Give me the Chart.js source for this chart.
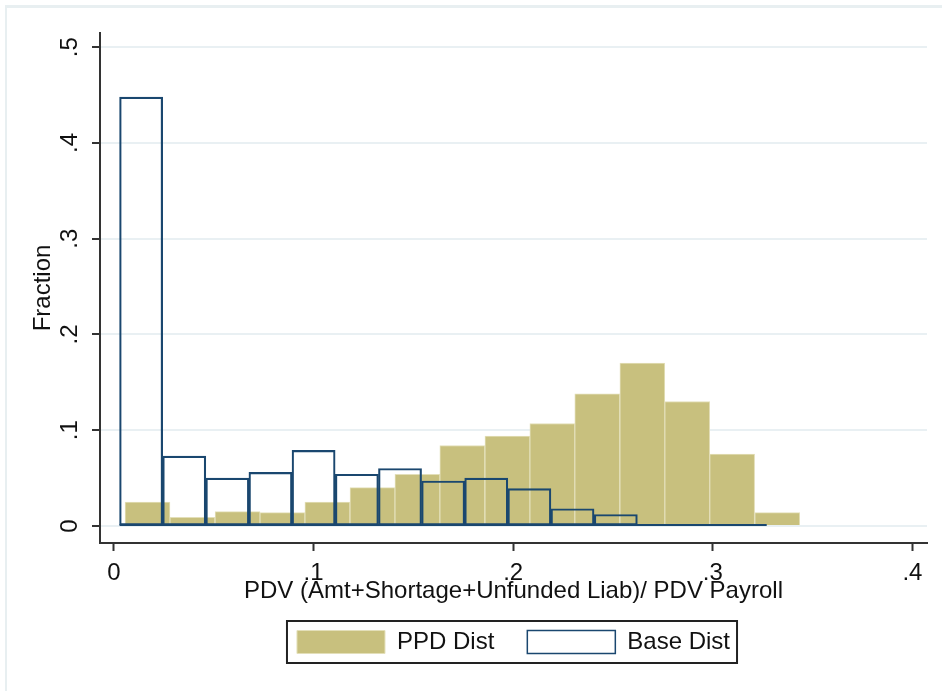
<!DOCTYPE html>
<html>
<head>
<meta charset="utf-8">
<title>PPD vs Base distribution</title>
<script src="https://cdn.jsdelivr.net/npm/chart.js@4.4.1/dist/chart.umd.min.js"></script>
<style>
  html, body { margin: 0; padding: 0; background: #fff; }
  #wrap { width: 942px; height: 691px; position: relative; }
</style>
</head>
<body>
<div id="wrap"><canvas id="histChart"></canvas></div>
<script>
// bin midpoints and fractions
const ppdBins = [0.0168, 0.0393, 0.0619, 0.0844, 0.1069, 0.1295, 0.1520, 0.1745, 0.1971, 0.2196, 0.2421, 0.2647, 0.2872, 0.3097, 0.3323];
const ppdFrac = [0.025, 0.009, 0.015, 0.014, 0.025, 0.040, 0.054, 0.084, 0.094, 0.107, 0.138, 0.170, 0.130, 0.075, 0.014];

const baseBins = [0.0136, 0.0352, 0.0568, 0.0784, 0.1000, 0.1217, 0.1433, 0.1649, 0.1865, 0.2081, 0.2297, 0.2514, 0.2730, 0.2946, 0.3162];
const baseFrac = [0.448, 0.073, 0.050, 0.056, 0.079, 0.054, 0.060, 0.047, 0.050, 0.039, 0.018, 0.012, 0, 0, 0];

const xTicks = [0, 0.1, 0.2, 0.3, 0.4];
const yTicks = [0, 0.1, 0.2, 0.3, 0.4, 0.5];

const seriesNames = ["PPD Dist", "Base Dist"];
const xTitle = "PDV (Amt+Shortage+Unfunded Liab)/ PDV Payroll";
const yTitle = "Fraction";

document.addEventListener("DOMContentLoaded", () => {
  const ctx = document.getElementById("histChart").getContext("2d");

  Chart.defaults.font.family = "'Liberation Sans', Arial, sans-serif";
  Chart.defaults.font.size = 24;
  Chart.defaults.color = "#111";

  const khaki = "#c8c07e";
  const navy = "#1a476f";
  const gridColor = "#e9f0f3";
  const axisColor = "#333";

  // stata style: ".1" instead of "0.1"
  const stataLabel = v => (v === 0 ? "0" : String(v).replace(/^0/, ""));

  const xMin = -0.007, xMax = 0.4073;

  // page frame + white background
  const frame = {
    id: "frame",
    beforeDraw(chart) {
      const c = chart.ctx;
      c.save();
      c.fillStyle = "#fff";
      c.fillRect(0, 0, chart.width, chart.height);
      c.fillStyle = "#e8eff1";
      c.fillRect(5, 5, chart.width - 5, 3);
      c.fillRect(5, 5, 2, chart.height - 5);
      c.restore();
    }
  };

  // base dist baseline runs under the empty bins too
  const baseLine = {
    id: "baseLine",
    afterDatasetsDraw(chart) {
      const meta = chart.getDatasetMeta(1);
      if (!meta.data.length) return;
      const first = meta.data[0], last = meta.data[meta.data.length - 1];
      const y0 = chart.scales.y.getPixelForValue(0);
      const c = chart.ctx;
      c.save();
      c.strokeStyle = navy;
      c.lineWidth = 2;
      c.beginPath();
      c.moveTo(first.x - first.width / 2, y0 - 1);
      c.lineTo(last.x + last.width / 2, y0 - 1);
      c.stroke();
      c.restore();
    }
  };

  // box round the legend
  const legendBox = {
    id: "legendBox",
    afterDraw(chart) {
      const hb = chart.legend && chart.legend.legendHitBoxes;
      if (!hb || !hb.length) return;
      const first = hb[0], last = hb[hb.length - 1];
      const c = chart.ctx;
      c.save();
      c.strokeStyle = "#222";
      c.lineWidth = 2;
      c.strokeRect(first.left - 10, first.top - 9, (last.left + last.width + 7) - (first.left - 10), first.height + 18);
      c.restore();
    }
  };

  new Chart(ctx, {
    type: "bar",
    data: {
      datasets: [
        {
          label: seriesNames[0],
          data: ppdBins.map((b, i) => ({ x: b, y: ppdFrac[i] })),
          xAxisID: "x",
          backgroundColor: khaki,
          borderColor: "#e3dfb9",
          borderWidth: 1,
          barPercentage: 1,
          categoryPercentage: 1,
          grouped: false,
          order: 1
        },
        {
          label: seriesNames[1],
          data: baseBins.map((b, i) => ({ x: b, y: baseFrac[i] })),
          xAxisID: "x2",
          backgroundColor: "rgba(0,0,0,0)",
          borderColor: navy,
          borderWidth: 1.5,
          borderSkipped: false,
          barPercentage: 1,
          categoryPercentage: 1,
          grouped: false,
          order: 0
        }
      ]
    },
    options: {
      responsive: true,
      maintainAspectRatio: false,
      animation: false,
      layout: { padding: { top: 33, left: 0, right: 15, bottom: 27 } },
      plugins: {
        tooltip: { enabled: false },
        legend: {
          position: "bottom",
          fullSize: false,
          labels: {
            boxWidth: 88,
            boxHeight: 23,
            padding: 33,
            color: "#111",
            font: { size: 24 },
            sort: (a, b) => a.datasetIndex - b.datasetIndex
          }
        }
      },
      scales: {
        x: {
          type: "linear",
          position: "bottom",
          min: xMin,
          max: xMax,
          offset: false,
          afterBuildTicks: s => { s.ticks = xTicks.map(v => ({ value: v })); },
          afterFit: s => { s.height = 54; },
          grid: { offset: false, drawOnChartArea: false, tickColor: axisColor, tickLength: 8, tickWidth: 2 },
          border: { color: axisColor, width: 2 },
          ticks: { padding: 8, maxRotation: 0, callback: v => stataLabel(v) },
          title: { display: true, text: xTitle, padding: { top: 0, bottom: -9 } }
        },
        x2: {
          type: "linear",
          display: false,
          min: xMin,
          max: xMax,
          offset: false,
          grid: { offset: false },
          afterBuildTicks: s => { s.ticks = xTicks.map(v => ({ value: v })); }
        },
        y: {
          type: "linear",
          position: "left",
          min: -0.0178,
          max: 0.5149,
          afterBuildTicks: s => { s.ticks = yTicks.map(v => ({ value: v })); },
          afterFit: s => { s.width = 100; },
          grid: { color: gridColor, lineWidth: 2, tickColor: axisColor, tickLength: 8, tickWidth: 2 },
          border: { color: axisColor, width: 2 },
          ticks: { minRotation: 90, maxRotation: 90, crossAlign: "center", padding: 12, callback: v => stataLabel(v) },
          title: { display: true, text: yTitle, padding: { top: 29, bottom: 0 } }
        }
      }
    },
    plugins: [frame, baseLine, legendBox]
  });
});
</script>
</body>
</html>
